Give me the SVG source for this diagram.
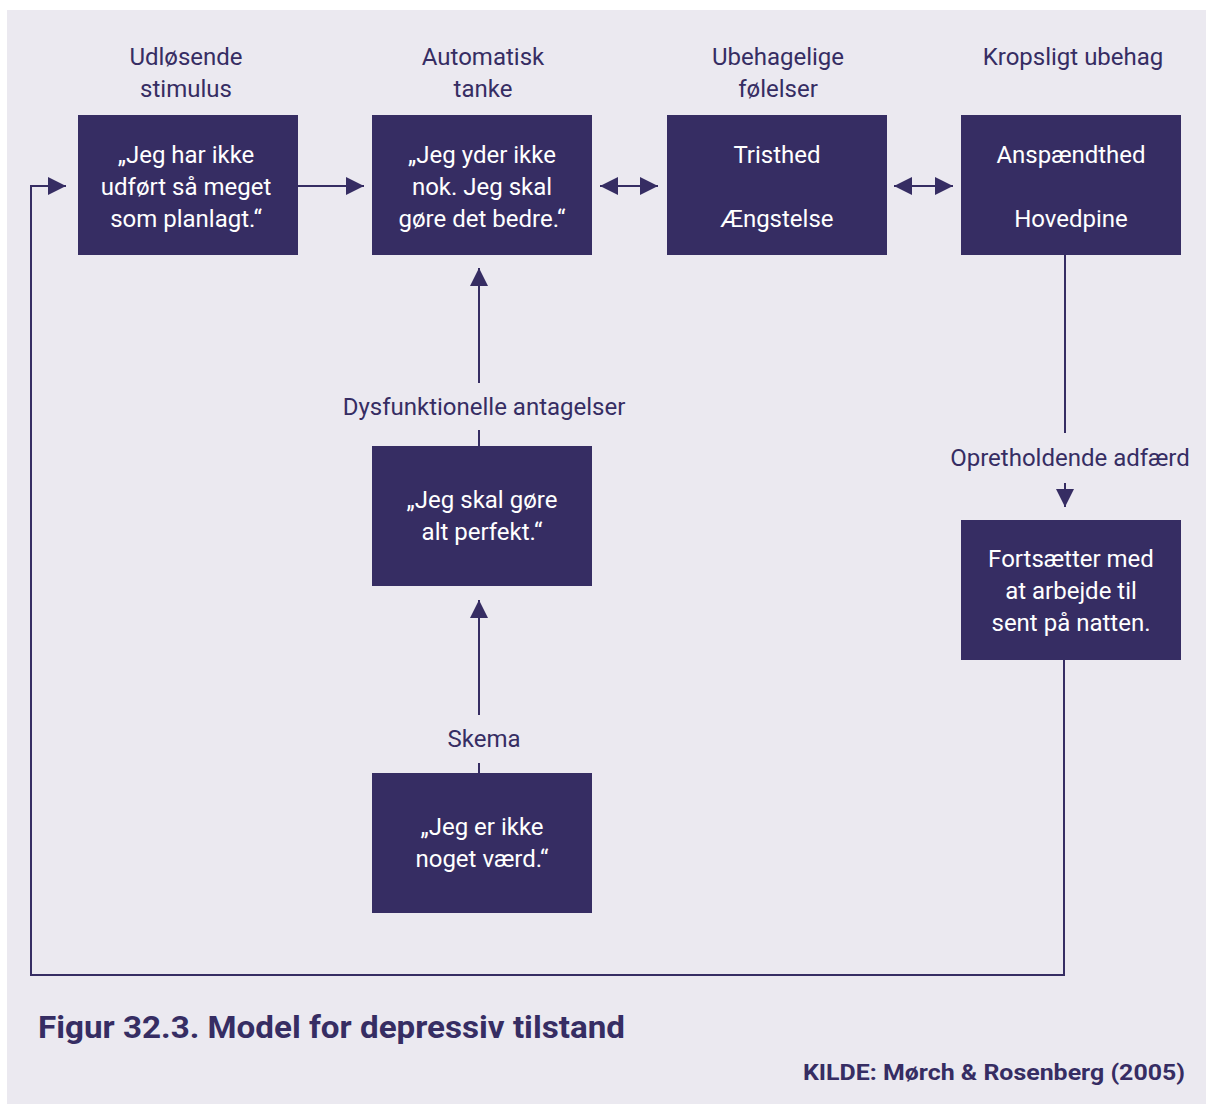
<svg xmlns="http://www.w3.org/2000/svg" width="1206" height="1104" viewBox="0 0 1206 1104">
<style>
.bg{fill:#ebe9f0}
.box{fill:#362d63}
.bt{font-family:Roboto,"Liberation Sans",sans-serif;font-size:24px;fill:#ffffff;text-anchor:middle}
.lb{font-family:Roboto,"Liberation Sans",sans-serif;font-size:24px;fill:#362d63;text-anchor:middle}
.ln{stroke:#362d63;stroke-width:2;fill:none}
.ttl{font-family:Roboto,"Liberation Sans",sans-serif;font-weight:bold;fill:#362d63}
</style>
<defs>
<marker id="ah" viewBox="0 0 10 10" refX="10" refY="5" markerWidth="8" markerHeight="8" markerUnits="userSpaceOnUse" orient="auto-start-reverse">
<path d="M0,0 L10,5 L0,10 Z" fill="#362d63"/>
</marker>
<marker id="ah2" viewBox="0 0 10 10" refX="10" refY="5" markerWidth="18" markerHeight="18" markerUnits="userSpaceOnUse" orient="auto-start-reverse">
<path d="M0,0 L10,5 L0,10 Z" fill="#362d63"/>
</marker>
</defs>
<rect width="1206" height="1104" fill="#ffffff"/>
<rect class="bg" x="7" y="10" width="1199" height="1094"/>

<g id="labels">
<text class="lb" x="186" y="65">Udløsende</text>
<text class="lb" x="186" y="97">stimulus</text>
<text class="lb" x="483" y="65">Automatisk</text>
<text class="lb" x="483" y="97">tanke</text>
<text class="lb" x="778" y="65">Ubehagelige</text>
<text class="lb" x="778" y="97">følelser</text>
<text class="lb" x="1073" y="65">Kropsligt ubehag</text>
</g>

<g id="connectors">
<path class="ln" d="M298,186 H364" marker-end="url(#ah2)"/>
<path class="ln" d="M600,186 H658" marker-start="url(#ah2)" marker-end="url(#ah2)"/>
<path class="ln" d="M894,186 H953" marker-start="url(#ah2)" marker-end="url(#ah2)"/>
<path class="ln" d="M479,383 V268" marker-end="url(#ah2)"/>
<path class="ln" d="M479,430 V446"/>
<path class="ln" d="M479,715 V600" marker-end="url(#ah2)"/>
<path class="ln" d="M479,763 V773"/>
<path class="ln" d="M1065,255 V433"/>
<path class="ln" d="M1065,483 V507" marker-end="url(#ah2)"/>
<path class="ln" d="M1064,660 V975 H31 V186 H66" marker-end="url(#ah2)"/>
<text class="lb" x="484" y="415">Dysfunktionelle antagelser</text>
<text class="lb" x="484" y="747">Skema</text>
<text class="lb" x="1070" y="466">Opretholdende adfærd</text>
</g>

<g id="node-stimulus">
<rect class="box" x="78" y="115" width="220" height="140"/>
<text class="bt" x="186" y="163">„Jeg har ikke</text>
<text class="bt" x="186" y="195">udført så meget</text>
<text class="bt" x="186" y="227">som planlagt.“</text>
</g>
<g id="node-tanke">
<rect class="box" x="372" y="115" width="220" height="140"/>
<text class="bt" x="482" y="163">„Jeg yder ikke</text>
<text class="bt" x="482" y="195">nok. Jeg skal</text>
<text class="bt" x="482" y="227">gøre det bedre.“</text>
</g>
<g id="node-foelelser">
<rect class="box" x="667" y="115" width="220" height="140"/>
<text class="bt" x="777" y="163">Tristhed</text>
<text class="bt" x="777" y="227">Ængstelse</text>
</g>
<g id="node-krop">
<rect class="box" x="961" y="115" width="220" height="140"/>
<text class="bt" x="1071" y="163">Anspændthed</text>
<text class="bt" x="1071" y="227">Hovedpine</text>
</g>
<g id="node-antagelser">
<rect class="box" x="372" y="446" width="220" height="140"/>
<text class="bt" x="482" y="508">„Jeg skal gøre</text>
<text class="bt" x="482" y="540">alt perfekt.“</text>
</g>
<g id="node-skema">
<rect class="box" x="372" y="773" width="220" height="140"/>
<text class="bt" x="482" y="835">„Jeg er ikke</text>
<text class="bt" x="482" y="867">noget værd.“</text>
</g>
<g id="node-adfaerd">
<rect class="box" x="961" y="520" width="220" height="140"/>
<text class="bt" x="1071" y="567">Fortsætter med</text>
<text class="bt" x="1071" y="599">at arbejde til</text>
<text class="bt" x="1071" y="631">sent på natten.</text>
</g>

<g id="caption">
<text class="ttl" x="38" y="1038" font-size="31" textLength="587" lengthAdjust="spacingAndGlyphs">Figur 32.3. Model for depressiv tilstand</text>
<text class="ttl" x="1185" y="1080" font-size="22" text-anchor="end" textLength="382" lengthAdjust="spacingAndGlyphs">KILDE: Mørch &amp; Rosenberg (2005)</text>
</g>
</svg>
